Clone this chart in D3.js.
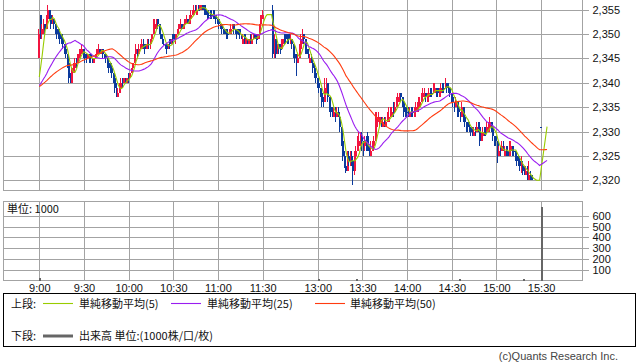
<!DOCTYPE html>
<html><head><meta charset="utf-8">
<script src="https://cdn.jsdelivr.net/npm/d3@7"></script>
<style>body{margin:0;background:#fff}svg{display:block}</style>
</head><body>
<svg id="c" width="638" height="362"></svg>
<script>
// ---- data: 1-minute bars, morning 9:00-11:30, afternoon 12:30-15:30 ----
const amOpen = [
2345,2354,2350,2351,2352,2351,2353,2355,2354,2352,
2353,2352,2351,2351,2350,2350,2349,2348,2347,2346,
2344,2341,2340,2342,2343,2345,2344,2345,2346,2346,
2347,2346,2346,2345,2346,2346,2345,2344,2345,2346,
2346,2347,2346,2347,2346,2346,2345,2344,2344,2343,
2342,2341,2339,2337,2338,2339,2341,2340,2341,2340,
2341,2341,2342,2343,2344,2346,2347,2346,2347,2347,
2348,2348,2347,2347,2348,2348,2349,2350,2351,2352,
2353,2352,2350,2349,2348,2348,2348,2347,2349,2348,
2350,2349,2349,2350,2351,2351,2352,2351,2352,2352,
2353,2352,2353,2354,2354,2355,2354,2355,2355,2355,
2356,2356,2355,2355,2354,2355,2354,2355,2354,2354,
2353,2353,2352,2352,2351,2351,2350,2350,2350,2350,
2351,2352,2351,2351,2350,2351,2350,2348,2350,2348,
2349,2348,2350,2348,2349,2350,2349,2349,2350,2352,
2353];
const amHigh = [
2351,2354,2352,2353,2352,2354,2356,2355,2354,2354,
2353,2352,2351,2351,2350,2350,2349,2348,2347,2346,
2344,2342,2343,2344,2345,2345,2346,2347,2347,2348,
2347,2346,2346,2346,2346,2346,2345,2345,2346,2347,
2348,2347,2347,2347,2346,2346,2345,2344,2344,2343,
2342,2341,2340,2339,2340,2341,2341,2341,2341,2341,
2342,2342,2343,2344,2346,2348,2347,2348,2348,2349,
2349,2348,2348,2349,2349,2349,2350,2353,2353,2353,
2353,2352,2351,2350,2349,2348,2348,2348,2349,2349,
2350,2350,2350,2351,2352,2353,2352,2352,2353,2354,
2353,2354,2355,2355,2356,2356,2356,2356,2356,2356,
2356,2356,2355,2355,2355,2355,2354,2355,2354,2354,
2353,2353,2352,2352,2351,2351,2351,2351,2351,2352,
2352,2352,2351,2351,2351,2351,2350,2350,2350,2349,
2349,2349,2350,2350,2350,2350,2350,2350,2352,2354,
2355];
const amLow = [
2345,2349,2349,2350,2350,2351,2352,2353,2351,2352,
2351,2350,2349,2349,2348,2348,2347,2346,2345,2343,
2340,2340,2340,2342,2343,2343,2344,2345,2346,2346,
2345,2344,2344,2345,2344,2344,2344,2344,2345,2346,
2346,2346,2346,2345,2345,2344,2343,2342,2342,2341,
2340,2338,2337,2337,2338,2339,2339,2340,2340,2340,
2340,2341,2342,2342,2344,2345,2345,2346,2347,2347,
2347,2346,2347,2347,2347,2347,2348,2350,2351,2351,
2351,2350,2349,2348,2348,2347,2346,2347,2347,2348,
2348,2349,2348,2350,2351,2351,2351,2351,2352,2352,
2352,2352,2353,2354,2354,2355,2354,2355,2355,2355,
2355,2354,2354,2353,2353,2353,2353,2353,2353,2352,
2352,2351,2351,2350,2350,2350,2349,2349,2350,2350,
2351,2350,2350,2349,2350,2349,2349,2348,2348,2348,
2348,2348,2348,2348,2349,2349,2348,2349,2349,2351,
2353];
const amClose = [
2350,2350,2351,2352,2351,2353,2355,2354,2352,2353,
2352,2351,2350,2350,2349,2349,2348,2347,2346,2344,
2341,2340,2343,2343,2344,2344,2346,2346,2347,2347,
2346,2345,2345,2346,2345,2345,2344,2345,2346,2347,
2347,2346,2347,2346,2345,2345,2344,2343,2343,2342,
2341,2339,2338,2338,2339,2340,2340,2341,2340,2341,
2341,2342,2343,2344,2346,2347,2346,2347,2348,2348,
2348,2347,2348,2348,2348,2349,2350,2352,2352,2353,
2352,2350,2349,2348,2348,2347,2347,2348,2348,2349,
2349,2349,2350,2351,2352,2352,2351,2352,2353,2353,
2352,2354,2354,2355,2355,2355,2355,2355,2356,2356,
2355,2355,2354,2354,2354,2354,2354,2354,2353,2353,
2352,2352,2351,2351,2350,2350,2350,2350,2351,2351,
2352,2351,2350,2350,2350,2350,2349,2349,2349,2349,
2348,2349,2349,2349,2350,2349,2349,2350,2352,2354,
2354];
const pmOpen = [
2355,2346,2349,2346,2348,2347,2347,2348,2349,2350,
2349,2350,2348,2349,2348,2346,2345,2344,2345,2347,
2349,2350,2349,2347,2346,2344,2345,2344,2343,2342,
2341,2340,2339,2338,2337,2336,2339,2340,2337,2335,
2335,2333,2334,2333,2334,2333,2331,2328,2325,2323,
2322,2325,2324,2325,2324,2322,2325,2326,2327,2328,
2329,2328,2327,2328,2329,2327,2325,2326,2327,2328,
2331,2332,2332,2333,2331,2333,2331,2332,2332,2333,
2333,2334,2334,2335,2336,2336,2338,2337,2336,2335,
2334,2335,2333,2335,2334,2333,2334,2334,2335,2335,
2336,2337,2337,2338,2336,2337,2339,2338,2338,2338,
2339,2339,2337,2338,2340,2339,2339,2340,2339,2339,
2338,2337,2336,2335,2336,2335,2334,2333,2335,2333,
2332,2332,2331,2331,2331,2329,2331,2330,2332,2331,
2328,2329,2331,2330,2330,2330,2331,2332,2331,2329,
2329,2328,2325,2327,2326,2327,2325,2327,2326,2325,
2326,2327,2326,2326,2325,2325,2324,2322,2323,2323,
2321,2322,2320,2321,2321,null,null,null,null,null,
2331];
const pmHigh = [
2356,2350,2349,2348,2348,2348,2349,2349,2350,2350,
2350,2350,2350,2349,2348,2347,2346,2346,2348,2350,
2351,2350,2349,2348,2347,2346,2346,2344,2344,2342,
2341,2341,2339,2338,2337,2341,2341,2340,2337,2336,
2335,2335,2335,2335,2335,2334,2331,2328,2326,2324,
2326,2326,2326,2326,2325,2326,2327,2329,2330,2330,
2330,2328,2329,2329,2330,2327,2328,2328,2329,2334,
2334,2334,2333,2333,2333,2333,2333,2334,2335,2335,
2335,2336,2336,2337,2338,2338,2338,2337,2336,2335,
2335,2335,2335,2335,2335,2335,2336,2336,2337,2337,
2338,2339,2339,2338,2338,2339,2339,2339,2340,2340,
2339,2339,2339,2340,2340,2340,2341,2340,2340,2339,
2338,2337,2336,2337,2336,2335,2334,2336,2335,2333,
2332,2332,2332,2331,2331,2331,2331,2332,2332,2331,
2330,2331,2331,2331,2332,2332,2333,2332,2331,2329,
2329,2328,2327,2327,2328,2328,2327,2327,2326,2328,
2328,2327,2327,2326,2325,2325,2324,2325,2324,2323,
2323,2323,2324,2322,2321,null,null,null,null,null,
2331];
const pmLow = [
2345,2345,2345,2346,2346,2346,2347,2347,2348,2348,
2348,2348,2348,2347,2345,2344,2341.5,2344,2345,2347,
2348,2348,2346,2346,2345,2344,2344,2342,2341,2340,
2339,2338,2337,2335,2335,2336,2338,2336,2334,2333,
2333,2333,2332,2333,2333,2330,2327,2324,2322.5,2321.5,
2322,2323,2323,2323,2319,2321,2324,2326,2327,2327,
2326,2325,2326,2326,2326,2325,2325,2326,2326,2328,
2330,2332,2331,2331,2331,2331,2331,2332,2332,2333,
2333,2333,2334,2335,2336,2336,2336,2335,2333,2333,
2333,2333,2333,2333,2333,2333,2334,2334,2335,2335,
2336,2337,2337,2336,2336,2337,2337,2337,2338,2338,
2337,2337,2337,2338,2338,2338,2339,2338,2338,2337,
2336,2335,2334,2335,2333,2333,2332,2333,2332,2331,
2330,2330,2330,2329,2329,2329,2329,2330,2330,2327,
2328,2329,2329,2329,2330,2330,2331,2330,2328,2327,
2327,2323.5,2325,2325,2326,2326,2325,2325,2325,2325,
2326,2325,2325,2324,2323,2323,2322,2321.5,2321,2321,
2321,2320,2320,2320,2320,null,null,null,null,null,
2331];
const pmClose = [
2346,2349,2346,2347,2347,2347,2348,2349,2349,2349,
2349,2349,2349,2348,2346,2345,2344,2345,2347,2349,
2350,2349,2347,2346,2345,2345,2344,2343,2342,2341,
2340,2339,2338,2336,2336,2339,2340,2337,2335,2334,
2334,2334,2333,2334,2333,2331,2328,2325,2323,2322,
2325,2324,2325,2324,2322,2325,2326,2327,2328,2329,
2328,2327,2328,2327,2326,2326,2326,2327,2328,2331,
2333,2333,2333,2332,2332,2332,2332,2333,2333,2334,
2334,2334,2335,2336,2337,2337,2337,2336,2334,2334,
2334,2334,2334,2334,2334,2334,2335,2335,2336,2336,
2337,2338,2338,2337,2337,2338,2338,2338,2339,2339,
2338,2338,2338,2339,2339,2339,2340,2339,2339,2338,
2337,2336,2335,2336,2334,2334,2333,2335,2333,2332,
2331,2331,2331,2330,2330,2330,2330,2331,2331,2328,
2329,2330,2330,2330,2331,2331,2332,2331,2329,2328,
2328,2326,2326,2326,2327,2326,2326,2326,2325,2327,
2327,2326,2326,2325,2324,2324,2323,2323,2322,2322,
2322,2321,2321,2320,2320,null,null,null,null,null,
2331];
const prevDayClose = 2339;
const volumeBars = [["9:00",20],["13:00",12],["13:26",12],["14:35",12],["15:18",12],["15:30",685]];
const timeTicks = ["9:00","9:30","10:00","10:30","11:00","11:30","13:00","13:30","14:00","14:30","15:00","15:30"];
const priceTicks = [2320,2325,2330,2335,2340,2345,2350,2355];
const volTicks = [100,200,300,400,500,600];
const maPeriods = [5,25,50];
const maColors = ["#99cc00","#9a1df0","#ff3b0f"];

// ---- layout ----
const svg = d3.select("#c");
const grid = "#a3a3a3";
const numFont = "'Liberation Sans', Arial, sans-serif";
const jpFont = "'Noto Sans CJK JP', sans-serif";
const slotOf = t => { const [h,m] = t.split(":").map(Number); const mm = (h-9)*60+m; return mm <= 150 ? mm : mm - 53; };
const pmStart = 157, lastSlot = 341;
const xs = d3.scaleLinear().domain([0,337]).range([39.3,541.1]);
const ys = d3.scaleLinear().domain([2318,2357]).range([190,0]);
const yv = d3.scaleLinear().domain([0,730]).range([280.5,201.7]);
const L = 3.5, R = 582.5;

// bars
const bars = [];
amClose.forEach((c,i) => bars.push({slot:i,o:amOpen[i],h:amHigh[i],l:amLow[i],c}));
pmClose.forEach((c,j) => { if (c != null) bars.push({slot:pmStart+j,o:pmOpen[j],h:pmHigh[j],l:pmLow[j],c}); });
const closeBySlot = new Map(bars.map(b => [b.slot,b.c]));
const series = []; let last = prevDayClose;
for (let s = 0; s <= lastSlot; s++) { if (closeBySlot.has(s)) last = closeBySlot.get(s); series.push(last); }
const sma = n => series.map((v,s) => { let sum = 0; for (let k = s-n+1; k <= s; k++) sum += k < 0 ? prevDayClose : series[k]; return sum/n; });

// grids
const g = svg.append("g").attr("shape-rendering","crispEdges");
priceTicks.forEach(p => g.append("line").attr("x1",L).attr("x2",R).attr("y1",Math.round(ys(p))+0.5).attr("y2",Math.round(ys(p))+0.5).attr("stroke",grid));
volTicks.forEach(v => g.append("line").attr("x1",L).attr("x2",R).attr("y1",Math.round(yv(v))+0.5).attr("y2",Math.round(yv(v))+0.5).attr("stroke",grid));
timeTicks.forEach(t => {
  const x = Math.round(xs(slotOf(t)))+0.5;
  g.append("line").attr("x1",x).attr("x2",x).attr("y1",0).attr("y2",190).attr("stroke",grid);
  g.append("line").attr("x1",x).attr("x2",x).attr("y1",201.5).attr("y2",280.5).attr("stroke",grid);
});
// frames
g.append("path").attr("d",`M${L},0V190.5H${R}V0`).attr("fill","none").attr("stroke",grid);
g.append("rect").attr("x",L).attr("y",201.5).attr("width",R-L).attr("height",79).attr("fill","none").attr("stroke",grid);

// axes
const yAx = svg.append("g").attr("transform",`translate(${R},0)`)
  .call(d3.axisRight(ys).tickValues(priceTicks).tickFormat(d3.format(",")).tickSize(6).tickPadding(4));
const vAx = svg.append("g").attr("transform",`translate(${R},0)`)
  .call(d3.axisRight(yv).tickValues(volTicks).tickSize(6).tickPadding(4));
const xAx = svg.append("g").attr("transform","translate(0,280)")
  .call(d3.axisBottom(xs).tickValues(timeTicks.map(slotOf)).tickFormat((d,i) => timeTicks[i]).tickSize(0).tickPadding(4));
[yAx,vAx,xAx].forEach(a => {
  a.select(".domain").remove();
  a.selectAll("line").attr("stroke",grid).attr("shape-rendering","crispEdges");
  a.selectAll("text").attr("font-family",numFont).attr("font-size",11).attr("fill","#111");
});

// candles
const cg = svg.append("g").attr("shape-rendering","crispEdges");
const up = "#f2143f", dn = "#0b3a9c";
bars.forEach(b => {
  const cx = Math.round(xs(b.slot));
  const col = b.c > b.o ? up : dn;
  cg.append("rect").attr("x",cx-1).attr("width",1).attr("y",ys(b.h)).attr("height",Math.max(1,ys(b.l)-ys(b.h))).attr("fill",col);
  const y0 = Math.min(ys(b.o),ys(b.c));
  cg.append("rect").attr("x",cx-1).attr("width",2).attr("y",y0).attr("height",Math.max(1,Math.abs(ys(b.o)-ys(b.c)))).attr("fill",col);
});

// moving averages
const line = d3.line().x((d,i) => xs(i)).y(d => ys(d));
maPeriods.forEach((n,k) => svg.append("path").attr("d",line(sma(n))).attr("fill","none").attr("stroke",maColors[k]).attr("stroke-width",1.1));

// volume
const vg = svg.append("g").attr("shape-rendering","crispEdges");
volumeBars.forEach(([t,v]) => {
  const cx = Math.round(xs(slotOf(t)));
  vg.append("rect").attr("x",cx).attr("width",2).attr("y",yv(v)).attr("height",yv(0)-yv(v)).attr("fill","#666");
});
svg.append("text").attr("x",7).attr("y",213).attr("font-family",jpFont).attr("font-size",11).attr("fill","#111").text("単位: 1000");

// legend
svg.append("rect").attr("x",3.5).attr("y",293.5).attr("width",632).attr("height",53).attr("fill","none").attr("stroke","#000").attr("shape-rendering","crispEdges");
const lg = svg.append("g").attr("font-family",jpFont).attr("font-size",11).attr("fill","#111");
lg.append("text").attr("x",11).attr("y",307.5).text("上段:");
const legendItems = [[43,79,"単純移動平均(5)"],[171,207,"単純移動平均(25)"],[315,350,"単純移動平均(50)"]];
legendItems.forEach(([lx,tx,label],k) => {
  svg.append("line").attr("x1",lx).attr("x2",lx+30).attr("y1",303.5).attr("y2",303.5).attr("stroke",maColors[k]).attr("stroke-width",1.1);
  lg.append("text").attr("x",tx).attr("y",307.5).text(label);
});
lg.append("text").attr("x",11).attr("y",340).text("下段:");
svg.append("line").attr("x1",43).attr("x2",73).attr("y1",336).attr("y2",336).attr("stroke","#666").attr("stroke-width",3);
lg.append("text").attr("x",79).attr("y",340).text("出来高 単位:(1000株/口/枚)");

svg.append("text").attr("x",618).attr("y",360).attr("text-anchor","end").attr("font-family",numFont).attr("font-size",11).attr("fill","#444").text("(c)Quants Research Inc.");
</script>
</body></html>
